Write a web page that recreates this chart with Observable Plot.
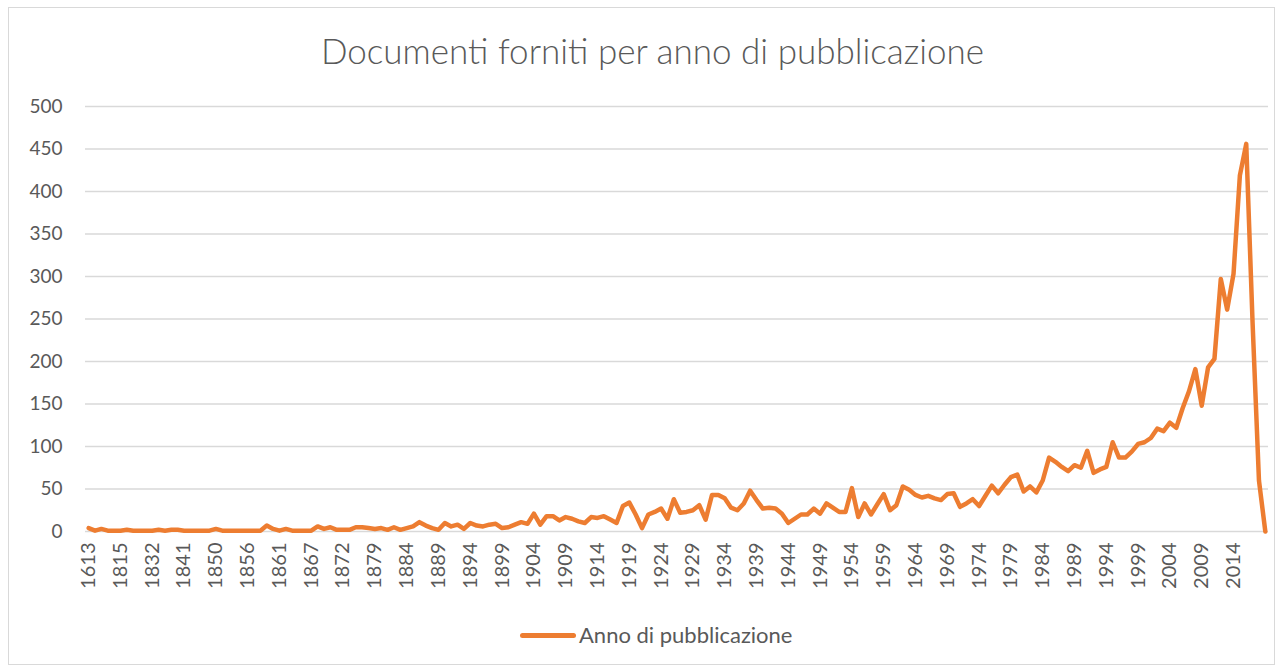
<!DOCTYPE html>
<html>
<head>
<meta charset="utf-8">
<script src="https://cdn.jsdelivr.net/npm/d3@7"></script>
<script src="https://cdn.jsdelivr.net/npm/@observablehq/plot@0.6"></script>
<style>
  body { margin: 0; background: #fff; font-family: Lato, "Open Sans", sans-serif; }
  #wrap { position: relative; width: 1282px; height: 671px; overflow: hidden; }
  #frame { position: absolute; left: 8px; top: 7px; width: 1267px; height: 658px; border: 1px solid #d9d9d9; box-sizing: border-box; }
  #title { position: absolute; left: 0; top: 28px; width: 1305px; text-align: center; font-size: 35px; font-weight: 300; color: #595959; line-height: 44px; }
  #chart { position: absolute; left: 0; top: 85px; }
  #legend { position: absolute; left: 0; top: 620px; width: 1282px; height: 30px; }
  #legend .sw { position: absolute; left: 520px; top: 13px; width: 56px; height: 5px; border-radius: 3px; background: #ED7D31; }
  #legend .tx { position: absolute; left: 579px; top: 1px; font-size: 22px; color: #595959; line-height: 28px; white-space: nowrap; }
</style>
</head>
<body>
<div id="wrap">
  <div id="frame"></div>
  <div id="title">Documenti forniti per anno di pubblicazione</div>
  <div id="chart"></div>
  <div id="legend"><div class="sw"></div><div class="tx">Anno di pubblicazione</div></div>
</div>
<script>
// Category years (Excel category axis; unlabeled early years are estimates)
const earlyYears = [1613, 1690, 1750, 1780, 1801, 1815, 1818, 1822, 1825, 1829,
  1832, 1834, 1836, 1838, 1840, 1841, 1843, 1845, 1847, 1848,
  1850, 1851, 1852, 1853, 1855, 1856, 1857, 1858, 1859, 1860,
  1861, 1862, 1863, 1864, 1866, 1867, 1868, 1869, 1870, 1871,
  1872, 1873, 1874, 1876, 1877, 1879, 1880, 1881, 1882, 1883,
  1884, 1885, 1886, 1887, 1888];
const laterYears = d3.range(1889, 2020);
const categories = earlyYears.concat(laterYears);

// Documents per year
const values = [
  4,1,3,1,1, 1,2,1,1,1, 1,2,1,2,2, 1,1,1,1,1, 3,1,1,1,1, 1,1,1,
  7,3,1,3,1, 1,1,1,6,3, 5,2,2,2,5, 5,4,3,4,2, 5,2,4,6,11, 7,4,
  2,10,6,8,3, 10,7,6,8,9, 4,5,8,11,9, 21,8,18,18,13, 17,15,12,10,17, 16,
  18,14,10,30,34, 20,4,20,23,27, 15,38,22,23,25, 31,14,43,43,39, 28,25,33,48,37, 27,28,
  27,21,10,15,20, 20,27,21,33,28, 23,23,51,17,33, 20,32,44,25,31, 53,49,43,40,42, 39,37,44,
  45,29,33,38,30, 42,54,45,55,64, 67,47,53,46,60, 87,82,76,71,78, 75,95,69,73,76, 105,87,87,94,
  103,105,110,121,118, 128,122,145,165,191, 148,193,203,297,261, 303,419,456,245,60, 0
];

// Axis tick labels
const xTickLabels = [1613, 1815, 1832, 1841, 1850, 1856, 1861, 1867, 1872, 1879, 1884,
  1889, 1894, 1899, 1904, 1909, 1914, 1919, 1924, 1929, 1934, 1939, 1944, 1949, 1954,
  1959, 1964, 1969, 1974, 1979, 1984, 1989, 1994, 1999, 2004, 2009, 2014];
const yTicks = [0, 50, 100, 150, 200, 250, 300, 350, 400, 450, 500];

const seriesName = "Anno di pubblicazione";

const data = values.map((v, i) => ({ i, year: categories[i], v }));
const tickIdx = xTickLabels.map(y => categories.indexOf(y));

const chart = Plot.plot({
  width: 1282,
  height: 530,
  marginTop: 21,
  marginBottom: 84,
  marginLeft: 85,
  marginRight: 14,
  style: { fontFamily: "Lato, 'Open Sans', sans-serif", fontSize: "19px", color: "#595959", background: "transparent", overflow: "visible" },
  x: { type: "linear", domain: [-0.5, categories.length - 0.5], axis: null },
  y: { domain: [0, 500], axis: null },
  marks: [
    Plot.ruleY(yTicks, { stroke: "#d9d9d9", strokeWidth: 1.3 }),
    Plot.axisY({ ticks: yTicks, tickSize: 0, tickPadding: 23, label: null, fontSize: 19 }),
    Plot.axisX({ ticks: tickIdx, tickFormat: i => String(categories[i]), tickRotate: -90, tickSize: 0, tickPadding: 11, label: null, fontSize: 20 }),
    Plot.lineY(data, { x: "i", y: "v", stroke: "#ED7D31", strokeWidth: 4.5, strokeLinejoin: "round", strokeLinecap: "round" })
  ]
});
document.getElementById("chart").appendChild(chart);
</script>
</body>
</html>
